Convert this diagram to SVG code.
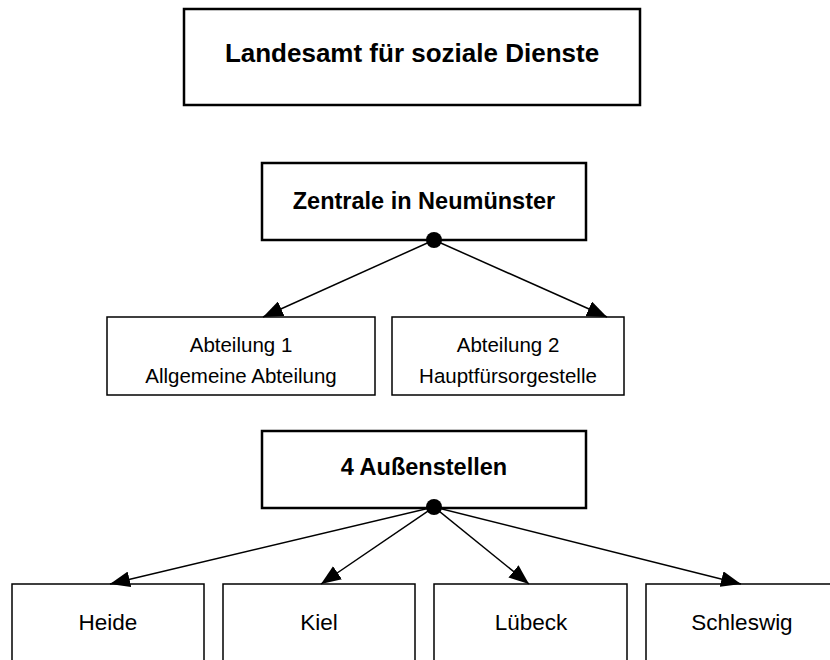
<svg xmlns="http://www.w3.org/2000/svg" width="830" height="660" viewBox="0 0 830 660">
<style>
.thick{fill:#fff;stroke:#000;stroke-width:2.5}
.thin{fill:#fff;stroke:#000;stroke-width:1.5}
.b{font-family:"Liberation Sans",Arial,sans-serif;font-weight:bold;text-anchor:middle;fill:#000}
.n{font-family:"Liberation Sans",Arial,sans-serif;text-anchor:middle;fill:#000}
.c{stroke:#000;stroke-width:1.5;fill:none;marker-end:url(#ah)}
</style>
<defs>
<marker id="ah" viewBox="0 0 20 16" refX="20" refY="8" markerWidth="20" markerHeight="16" markerUnits="userSpaceOnUse" orient="auto">
<path d="M0,0 L20,8 L0,16 Z" fill="#000"/>
</marker>
</defs>
<rect width="830" height="660" fill="#fff"/>
<g id="landesamt">
<rect class="thick" x="184" y="9" width="456" height="96"/>
<text class="b" x="412" y="62" font-size="26">Landesamt für soziale Dienste</text>
</g>
<g id="zentrale">
<rect class="thick" x="262" y="163" width="324" height="77"/>
<text class="b" x="424" y="209" font-size="23.5">Zentrale in Neumünster</text>
</g>
<g id="abteilung1">
<rect class="thin" x="107" y="317" width="268" height="78"/>
<text class="n" x="241" y="352" font-size="20.5">Abteilung 1</text>
<text class="n" x="241" y="383" font-size="20.5">Allgemeine Abteilung</text>
</g>
<g id="abteilung2">
<rect class="thin" x="392" y="317" width="232" height="78"/>
<text class="n" x="508" y="352" font-size="20.5">Abteilung 2</text>
<text class="n" x="508" y="383" font-size="20.5">Hauptfürsorgestelle</text>
</g>
<g id="aussenstellen">
<rect class="thick" x="262" y="431" width="324" height="77"/>
<text class="b" x="424" y="475" font-size="23.5">4 Außenstellen</text>
</g>
<g id="heide">
<rect class="thin" x="12" y="584" width="192" height="90"/>
<text class="n" x="108" y="630" font-size="22.5">Heide</text>
</g>
<g id="kiel">
<rect class="thin" x="223" y="584" width="192" height="90"/>
<text class="n" x="319" y="630" font-size="22.5">Kiel</text>
</g>
<g id="luebeck">
<rect class="thin" x="434" y="584" width="193" height="90"/>
<text class="n" x="531" y="630" font-size="22.5">Lübeck</text>
</g>
<g id="schleswig">
<rect class="thin" x="646" y="584" width="192" height="90"/>
<text class="n" x="742" y="630" font-size="22.5">Schleswig</text>
</g>
<g id="connectors">
<line class="c" x1="434" y1="240" x2="263" y2="317"/>
<line class="c" x1="434" y1="240" x2="607" y2="317"/>
<line class="c" x1="434" y1="507" x2="110" y2="584"/>
<line class="c" x1="434" y1="507" x2="321" y2="584"/>
<line class="c" x1="434" y1="507" x2="529" y2="584"/>
<line class="c" x1="434" y1="507" x2="741" y2="584"/>
<circle cx="434" cy="240" r="8" fill="#000"/>
<circle cx="434" cy="507" r="8" fill="#000"/>
</g>
</svg>
